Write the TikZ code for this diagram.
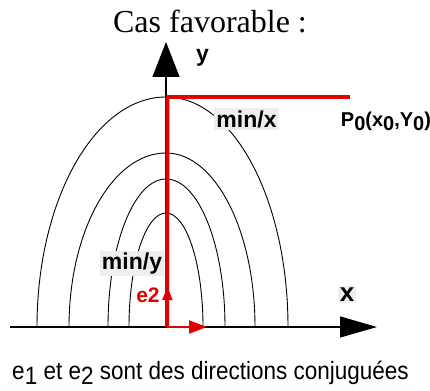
\documentclass[tikz,border=0pt]{standalone}
\usepackage{fontspec}
\setmainfont{Liberation Serif}
\newfontfamily\labfont{Liberation Sans}
\newfontfamily\notefont[FakeStretch=0.9]{Liberation Sans}
\usetikzlibrary{arrows.meta}
\definecolor{vecred}{RGB}{225,0,0}
\definecolor{boxgray}{RGB}{238,238,238}
\newcommand{\low}[1]{\raisebox{-0.18em}{#1}}

\begin{document}
\begin{tikzpicture}[x=1pt,y=1pt, every node/.style={inner sep=0pt},
  lab/.style={font=\labfont\bfseries\fontsize{23}{23}\selectfont},
  tag/.style={lab,fill=boxgray,inner sep=2pt},
  level/.style={line width=0.9pt},
  axis/.style={line width=1.2pt},
  vec/.style={vecred,line width=2pt}]
\useasboundingbox (0,0) rectangle (430,390);
% level curves
\foreach \al/\ar/\b in {129/122/230, 97/89/174, 58/59/148, 37/37/114}
  \draw[level] ({166-\al},63) arc[start angle=180,end angle=90,x radius=\al,y radius=\b]
    arc[start angle=90,end angle=0,x radius=\ar,y radius=\b];
\coordinate (O) at (167,63);
\coordinate (xa) at (10,63); \coordinate (xb) at (377,63);
\coordinate (ya) at (166,63); \coordinate (yb) at (166,348);
\coordinate (top) at (167.5,293); \coordinate (P) at (350,293);
\coordinate (e1) at (207,63); \coordinate (e2) at (167.5,103);
\draw[axis,-{Triangle[length=37pt,width=21pt]}] (xa)--(xb);
\draw[axis,-{Triangle[length=35pt,width=27pt]}] (ya)--(yb);
\draw[vecred,line width=4pt] (O|-xa) -- (top);
\draw[vecred,line width=3.5pt] ([xshift=-2pt]top) -- (P);
\draw[vec,-{Triangle[length=18pt,width=13pt]}] (O)--(e1);
\draw[vec,-{Triangle[length=13pt,width=10pt]}] (O)--(e2);
\node[anchor=base] (titre) at (210,357) {\fontsize{32}{32}\selectfont Cas favorable :};
\node[lab,anchor=base] (ylab) at (202.5,328) {y};
\node[tag] (minx) at (246.5,271) {min/x};
\node[lab,anchor=base,font=\labfont\bfseries\fontsize{20}{20}\selectfont] (p0) at (386,263) {P\low{0}(x\low{0},Y\low{0})};
\node[tag] (miny) at (132,126.5) {min/y};
\node[lab,anchor=base,text=vecred,font=\labfont\bfseries\fontsize{21}{21}\selectfont] (e2lab) at (148,87) {e2};
\node[tag,font=\labfont\bfseries\fontsize{26}{26}\selectfont] (xlab) at (347,95.5) {x};
\node[anchor=base,font=\notefont\fontsize{25}{25}\selectfont] (note) at (210.5,10)
  {e\low{1} et e\low{2} sont des directions conjuguées};
\end{tikzpicture}
\end{document}
